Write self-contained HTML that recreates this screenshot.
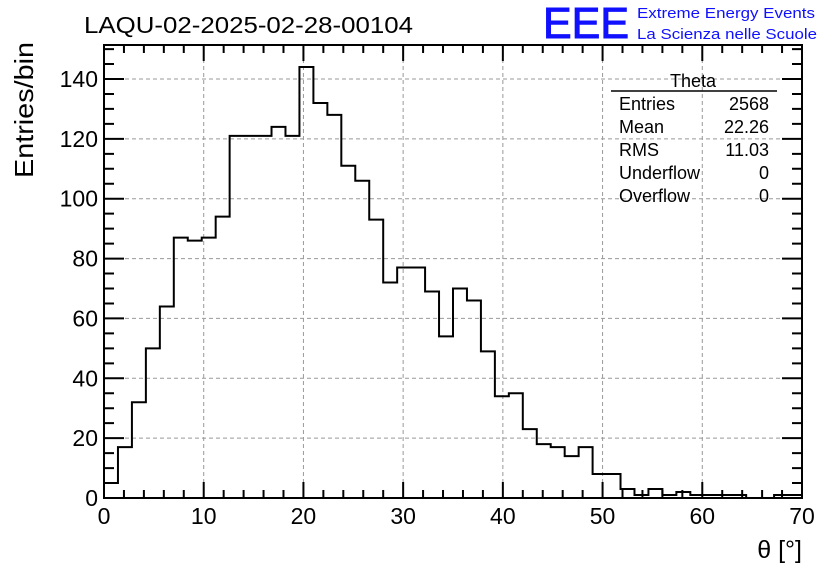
<!DOCTYPE html>
<html><head><meta charset="utf-8"><style>
body{margin:0;background:#fff;}
svg{display:block;font-family:"Liberation Sans",sans-serif;}
</style></head><body>
<svg id="c" width="836" height="572" viewBox="0 0 836 572">
<text x="84" y="33" font-size="23" textLength="329" lengthAdjust="spacingAndGlyphs">LAQU-02-2025-02-28-00104</text>
<text x="543" y="38" font-size="44" fill="#1010ff" stroke="#1010ff" stroke-width="1" textLength="86" lengthAdjust="spacingAndGlyphs">EEE</text>
<text x="637" y="18" font-size="15" fill="#1010ff" textLength="178" lengthAdjust="spacingAndGlyphs">Extreme Energy Events</text>
<text x="637" y="39" font-size="15" fill="#1010ff" textLength="180" lengthAdjust="spacingAndGlyphs">La Scienza nelle Scuole</text>
<g id="grid"></g>
<g id="axes"></g>
<path id="hist" fill="none" stroke="#000" stroke-width="2"/>
<text transform="translate(33 110) rotate(-90)" font-size="26" text-anchor="middle" textLength="136" lengthAdjust="spacingAndGlyphs">Entries/bin</text>
<text x="802" y="558" font-size="25" text-anchor="end">θ [°]</text>
<g font-size="18">
<line x1="611" y1="91" x2="777" y2="91" stroke="#000" stroke-width="1.5"/>
<text x="693" y="87" text-anchor="middle">Theta</text>
<text x="619" y="110">Entries</text><text x="769" y="110" text-anchor="end">2568</text>
<text x="619" y="133">Mean</text><text x="769" y="133" text-anchor="end">22.26</text>
<text x="619" y="156">RMS</text><text x="769" y="156" text-anchor="end">11.03</text>
<text x="619" y="179">Underflow</text><text x="769" y="179" text-anchor="end">0</text>
<text x="619" y="202">Overflow</text><text x="769" y="202" text-anchor="end">0</text>
</g>
</svg>
<script>
const counts=[5,17,32,50,64,87,86,87,94,121,121,121,124,121,144,132,128,111,106,93,72,77,77,69,54,70,66,49,34,35,23,18,17,14,17,8,8,3,1,3,1,2,1,1,1,1,0,0,1,1];
const xTicks=[0,10,20,30,40,50,60,70];
const yTicks=[0,20,40,60,80,100,120,140];
const binWidth=1.4;
const X0=104,X1=802,Y0=498,YT=45;
const sx=v=>X0+(X1-X0)*v/70;
const sy=v=>Y0-v*(419/140);
const NS="http://www.w3.org/2000/svg";
function mk(parent,tag,attrs){const e=document.createElementNS(NS,tag);for(const k in attrs)e.setAttribute(k,attrs[k]);parent.appendChild(e);return e;}
const grid=document.getElementById('grid'),axes=document.getElementById('axes');
xTicks.forEach(t=>{
 if(t>0&&t<70){const l=mk(grid,'line',{x1:sx(t),x2:sx(t),y1:YT,y2:Y0,stroke:'#999','stroke-dasharray':'4,3'});
 
 }
 const tx=mk(axes,'text',{x:sx(t),y:Y0+26,'font-size':23,'text-anchor':'middle'});tx.textContent=t;
 
 
});
yTicks.forEach(t=>{
 if(t>0){const l=mk(grid,'line',{x1:X0,x2:X1,y1:sy(t),y2:sy(t),stroke:'#999','stroke-dasharray':'4,3'});
 
 }
 const tx=mk(axes,'text',{x:X0-6,y:sy(t)+8,'font-size':23,'text-anchor':'end'});tx.textContent=t;
 
 
});
let d='';
for(let v=0;v<=70;v+=2){const L=(v%10===0)?16:8;d+=`M${sx(v)} ${Y0}v${-L}M${sx(v)} ${YT}v${L}`;}
for(let v=0;v<=150;v+=5){const L=(v%20===0)?20:10;d+=`M${X0} ${sy(v)}h${L}M${X1} ${sy(v)}h${-L}`;}
d+=`M${X0} ${YT}V${Y0}H${X1}V${YT}Z`;
mk(axes,'path',{d:d,stroke:'#000','stroke-width':2,fill:'none'});
let p=`M${sx(0)} ${Y0}`;
counts.forEach((c,i)=>{p+=`V${sy(c)}H${sx((i+1)*binWidth)}`;});
document.getElementById('hist').setAttribute('d',p);
</script>
</body></html>
